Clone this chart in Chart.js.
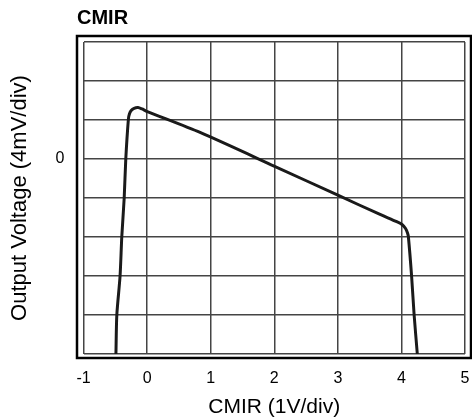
<!DOCTYPE html>
<html>
<head>
<meta charset="utf-8">
<script src="https://cdn.jsdelivr.net/npm/chart.js@4/dist/chart.umd.min.js"></script>
<style>
  html, body { margin: 0; padding: 0; background: #ffffff; }
  #wrap { width: 472px; height: 420px; }
</style>
</head>
<body>
<div id="wrap"><canvas id="c" width="472" height="420"></canvas></div>
<script>
// CMIR sweep (V) and output voltage (mV)
const cmirVolts = [-0.49, -0.476, -0.425, -0.398, -0.36, -0.335, -0.294, -0.278, -0.25, -0.204, -0.142, -0.079, -0.016, 0.833, 1.997, 2.992, 3.664, 3.926, 4.01, 4.065, 4.096, 4.11, 4.16, 4.20, 4.25];
const outputMv  = [-20, -16, -12, -8, -4, 0, 4.10, 4.62, 4.97, 5.2, 5.28, 5.13, 4.92, 2.72, -0.72, -3.69, -5.69, -6.43, -6.72, -7.13, -7.59, -8.0, -12, -16, -20];
const xTickLabels = ['-1', '0', '1', '2', '3', '4', '5'];
const yTickLabels = { '0': '0' };

const points = cmirVolts.map((x, i) => ({ x: x, y: outputMv[i] }));

const framePlugin = {
  id: 'frame',
  afterDraw(chart) {
    const ctx = chart.ctx;
    ctx.save();
    ctx.strokeStyle = '#000';
    ctx.lineWidth = 2.5;
    ctx.strokeRect(77, 36, 394, 322);
    ctx.fillStyle = '#000';
    ctx.font = 'bold 20px "Liberation Sans", Arial, sans-serif';
    ctx.textBaseline = 'middle';
    ctx.textAlign = 'left';
    ctx.fillText('CMIR', 77, 18);
    ctx.restore();
  }
};

new Chart(document.getElementById('c'), {
  type: 'scatter',
  data: {
    datasets: [{
      data: points,
      showLine: true,
      borderColor: '#1a1a1a',
      borderWidth: 3,
      pointRadius: 0,
      tension: 0.25,
      fill: false
    }]
  },
  options: {
    responsive: false,
    devicePixelRatio: 1,
    animation: false,
    layout: { padding: { left: 0, right: 7, top: 42, bottom: 0 } },
    plugins: { legend: { display: false }, tooltip: { enabled: false } },
    scales: {
      x: {
        type: 'linear',
        min: -1, max: 5,
        afterFit(scale) { scale.height = 66; scale.paddingLeft = 0; scale.paddingRight = 0; },
        grid: { color: '#444', lineWidth: 1.5, drawTicks: false },
        border: { display: false },
        ticks: {
          stepSize: 1,
          padding: 15,
          color: '#000',
          font: { family: '"Liberation Sans", Arial, sans-serif', size: 16 },
          callback: (v) => xTickLabels[Math.round(v) + 1]
        },
        title: {
          display: true,
          text: 'CMIR (1V/div)',
          color: '#000',
          font: { family: '"Liberation Sans", Arial, sans-serif', size: 21 },
          padding: { top: 0, bottom: 0 }
        }
      },
      y: {
        type: 'linear',
        min: -20, max: 12,
        afterFit(scale) { scale.width = 83.5; scale.paddingTop = 0; scale.paddingBottom = 0; },
        grid: { color: '#444', lineWidth: 1.5, drawTicks: false },
        border: { display: false },
        ticks: {
          stepSize: 4,
          padding: 19,
          color: '#000',
          font: { family: '"Liberation Sans", Arial, sans-serif', size: 16 },
          callback: (v) => (yTickLabels[String(v)] !== undefined ? yTickLabels[String(v)] : '')
        },
        title: {
          display: true,
          text: 'Output Voltage (4mV/div)',
          color: '#000',
          font: { family: '"Liberation Sans", Arial, sans-serif', size: 22 },
          padding: { top: 7, bottom: 0 }
        }
      }
    }
  },
  plugins: [framePlugin]
});
</script>
</body>
</html>
